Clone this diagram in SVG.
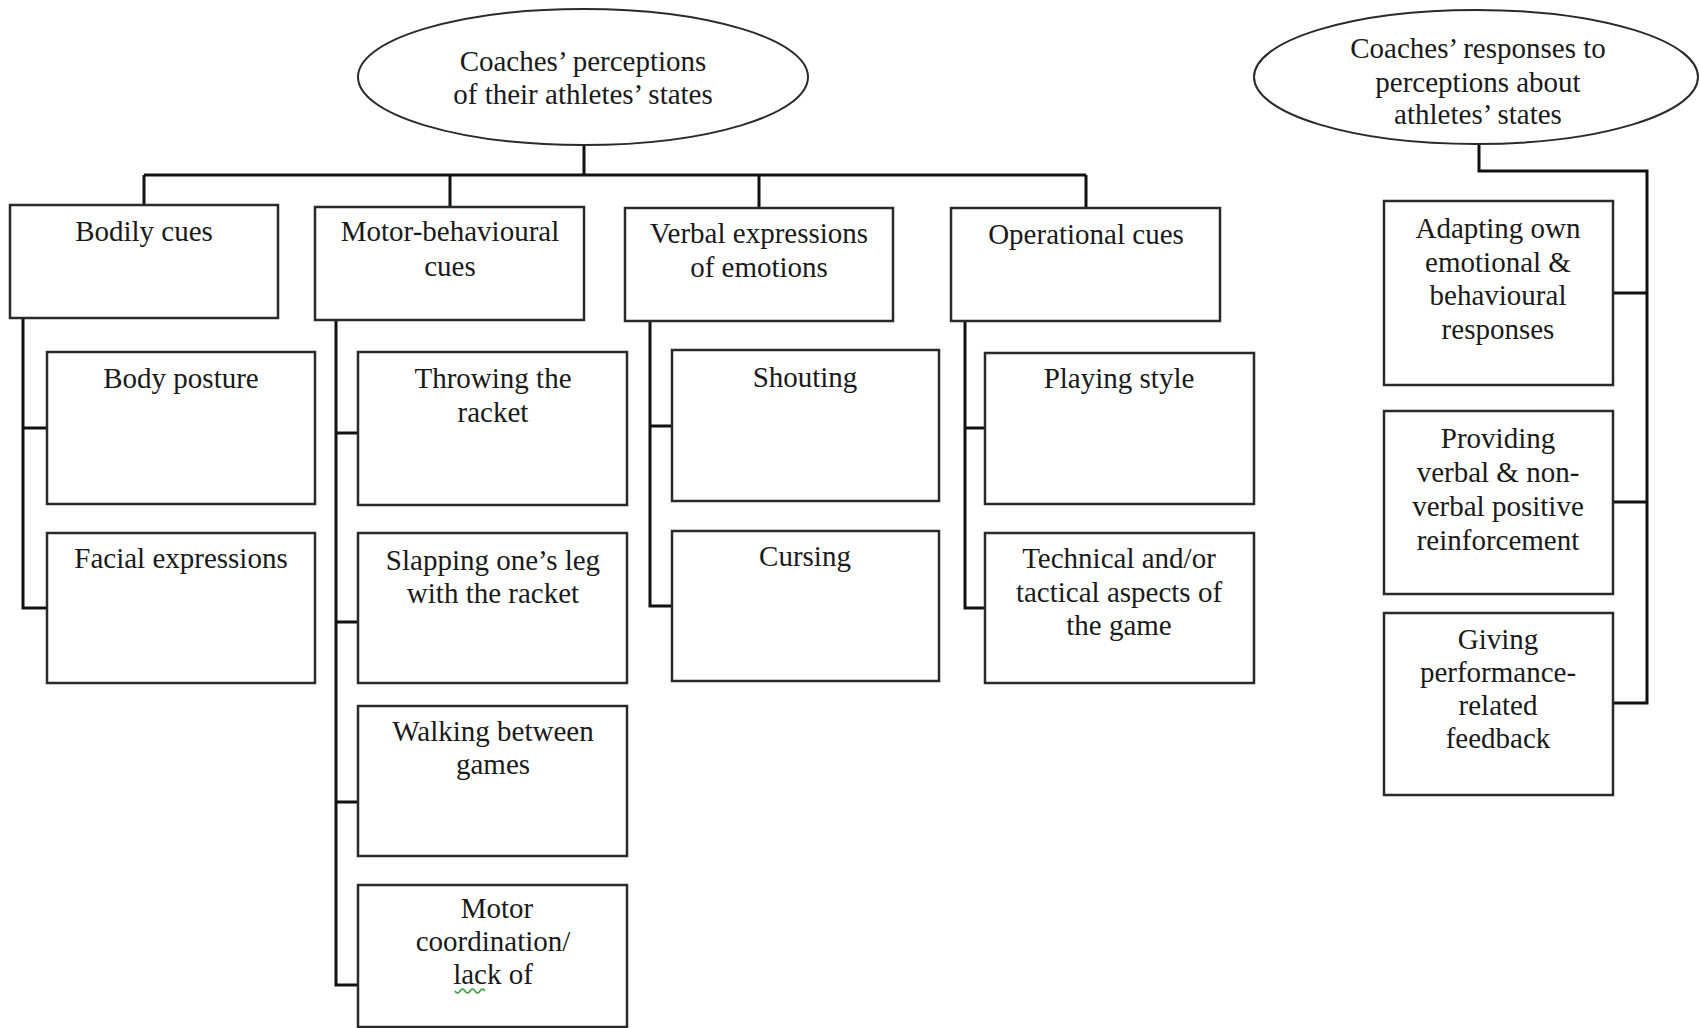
<svg xmlns="http://www.w3.org/2000/svg" width="1700" height="1028" viewBox="0 0 1700 1028">
<style>
.n{fill:#fff;stroke:#2a2a2a;stroke-width:2.5}
.e{fill:#fff;stroke:#2a2a2a;stroke-width:2}
.c{fill:none;stroke:#111;stroke-width:3}
text{font-family:"Liberation Serif","Times New Roman",serif;font-size:29px;fill:#1a1a1a;text-anchor:middle}
</style>
<rect width="1700" height="1028" fill="#fff"/>
<g id="connectors">
<path class="c" d="M584 145V175M144 175H1086M144 175V205M450 175V207M759 175V208M1086 175V208"/>
<path class="c" d="M23 318V608H47M23 428H47"/>
<path class="c" d="M336 320V985H358M336 433H358M336 622H358M336 802H358"/>
<path class="c" d="M650 321V606H672M650 426H672"/>
<path class="c" d="M965 321V608H985M965 428H985"/>
<path class="c" d="M1479 144V171H1647V703H1613M1613 293H1647M1613 502H1647"/>
</g>
<g id="root-perceptions"><ellipse class="e" cx="583" cy="77" rx="225" ry="68"/><text x="583" y="71">Coaches’ perceptions</text><text x="583" y="104">of their athletes’ states</text></g>
<g id="root-responses"><ellipse class="e" cx="1476" cy="77" rx="222" ry="67"/><text x="1478" y="58">Coaches’ responses to</text><text x="1478" y="92">perceptions about</text><text x="1478" y="124">athletes’ states</text></g>
<g id="bodily-cues"><rect class="n" x="10" y="205" width="268" height="113"/><text x="144" y="241">Bodily cues</text></g>
<g id="motor-behavioural-cues"><rect class="n" x="315" y="207" width="269" height="113"/><text x="450" y="241">Motor-behavioural</text><text x="450" y="276">cues</text></g>
<g id="verbal-expressions"><rect class="n" x="625" y="208" width="268" height="113"/><text x="759" y="243">Verbal expressions</text><text x="759" y="277">of emotions</text></g>
<g id="operational-cues"><rect class="n" x="951" y="208" width="269" height="113"/><text x="1086" y="244">Operational cues</text></g>
<g id="body-posture"><rect class="n" x="47" y="352" width="268" height="152"/><text x="181" y="388">Body posture</text></g>
<g id="facial-expressions"><rect class="n" x="47" y="533" width="268" height="150"/><text x="181" y="568">Facial expressions</text></g>
<g id="throwing-racket"><rect class="n" x="358" y="352" width="269" height="153"/><text x="493" y="388">Throwing the</text><text x="493" y="422">racket</text></g>
<g id="slapping-leg"><rect class="n" x="358" y="533" width="269" height="150"/><text x="493" y="570">Slapping one’s leg</text><text x="493" y="603">with the racket</text></g>
<g id="walking-between-games"><rect class="n" x="358" y="706" width="269" height="150"/><text x="493" y="741">Walking between</text><text x="493" y="774">games</text></g>
<g id="motor-coordination"><rect class="n" x="358" y="885" width="269" height="142"/><text x="497" y="918">Motor</text><text x="493" y="951">coordination/</text><text x="493" y="984">lack of</text><path d="M455 991q2.5 4 5 0t5 0 5 0 5 0 5 0 5 0" fill="none" stroke="#3a9a3a" stroke-width="1.5"/></g>
<g id="shouting"><rect class="n" x="672" y="350" width="267" height="151"/><text x="805" y="387">Shouting</text></g>
<g id="cursing"><rect class="n" x="672" y="531" width="267" height="150"/><text x="805" y="566">Cursing</text></g>
<g id="playing-style"><rect class="n" x="985" y="353" width="269" height="151"/><text x="1119" y="388">Playing style</text></g>
<g id="technical-tactical"><rect class="n" x="985" y="533" width="269" height="150"/><text x="1119" y="568">Technical and/or</text><text x="1119" y="602">tactical aspects of</text><text x="1119" y="635">the game</text></g>
<g id="adapting-responses"><rect class="n" x="1384" y="201" width="229" height="184"/><text x="1498" y="238">Adapting own</text><text x="1498" y="272">emotional &amp;</text><text x="1498" y="305">behavioural</text><text x="1498" y="339">responses</text></g>
<g id="positive-reinforcement"><rect class="n" x="1384" y="411" width="229" height="183"/><text x="1498" y="448">Providing</text><text x="1498" y="482">verbal &amp; non-</text><text x="1498" y="516">verbal positive</text><text x="1498" y="550">reinforcement</text></g>
<g id="performance-feedback"><rect class="n" x="1384" y="613" width="229" height="182"/><text x="1498" y="649">Giving</text><text x="1498" y="682">performance-</text><text x="1498" y="715">related</text><text x="1498" y="748">feedback</text></g>
</svg>
